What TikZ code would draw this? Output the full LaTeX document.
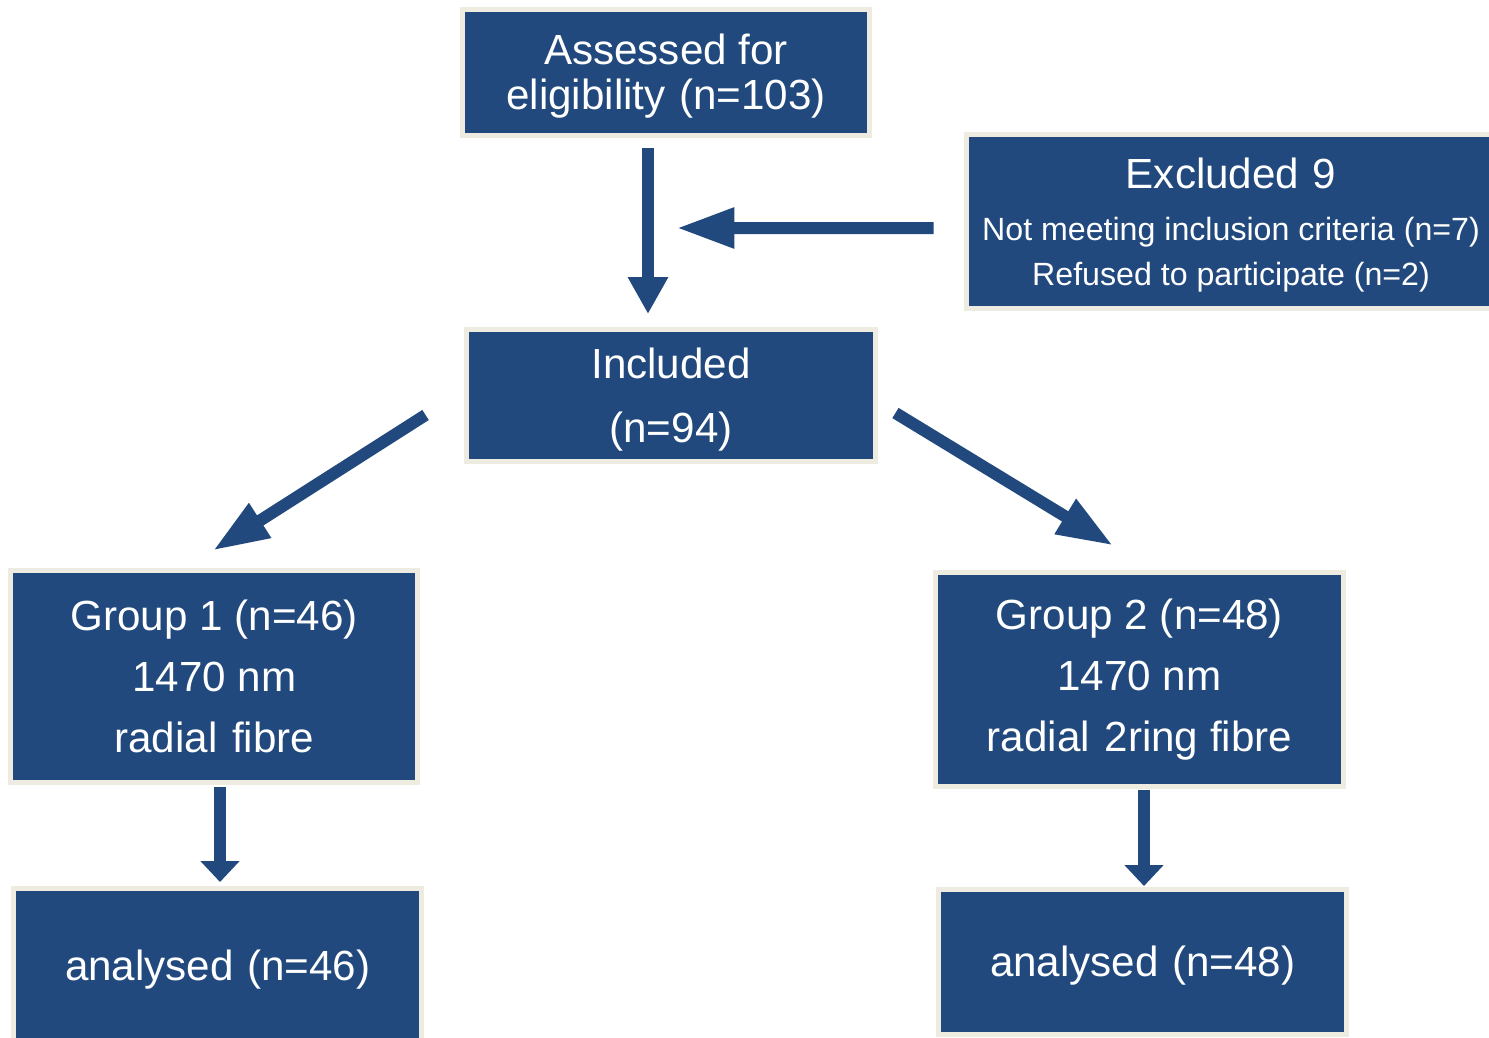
\documentclass[tikz,border=0pt]{standalone}
\usepackage{fontspec}
\setmainfont{Liberation Sans}
\usetikzlibrary{arrows.meta,calc}
\definecolor{boxblue}{RGB}{33,73,125}
\definecolor{boxrim}{RGB}{238,235,224}
\newcommand{\lift}{\rule{0pt}{21.5pt}}
\tikzset{
    box/.style={draw=boxrim, line width=0.1cm, fill=boxblue, text=white,
        inner sep=0pt, align=center, font=\fontsize{24}{26.1}\selectfont},
    flow/.style={draw=boxblue, line width=0.24cm, -{Triangle[width=0.76cm, length=#1]}},
    flow/.default=0.74cm
}

\begin{document}
\begin{tikzpicture}[x=0.02cm, y=-0.02cm]
    \useasboundingbox (0,0) rectangle (1489,1038);

    \node[box, minimum width=8.15cm, minimum height=2.54cm] (assess) at (666,72.5)
        {\lift Assessed for\\eligibility\hspace{0.32em}(n=103)};
    \node[box, minimum width=10.6cm, minimum height=3.48cm] (excl) at (1231,221.5)
        {{\fontsize{24}{26}\selectfont\lift Excluded\hspace{0.32em}9}\\[3.5pt]
         {\fontsize{18.3}{25.6}\selectfont Not meeting inclusion criteria (n=7)}\\
         {\fontsize{18.3}{25.6}\selectfont Refused to participate (n=2)}};
    \node[box, minimum width=8.18cm, minimum height=2.65cm,
        font=\fontsize{24}{36.3}\selectfont] (incl) at (671,395.75)
        {\lift Included\\(n=94)};
    \node[box, minimum width=8.15cm, minimum height=4.24cm,
        font=\fontsize{24}{34.6}\selectfont] (grp1) at (214.25,676.5)
        {Group 1 (n=46)\\1470 nm\\radial\hspace{0.35em}fibre};
    \node[box, minimum width=8.16cm, minimum height=4.28cm,
        font=\fontsize{24}{34.6}\selectfont] (grp2) at (1139.5,679.5)
        {Group 2 (n=48)\\1470 nm\\radial\hspace{0.35em}2ring fibre};
    \node[box, minimum width=8.17cm, minimum height=3.1cm] (ana1) at (217.75,966)
        {\lift analysed\hspace{0.32em}(n=46)};
    \node[box, minimum width=8.17cm, minimum height=2.9cm] (ana2) at (1142.75,962)
        {\lift analysed\hspace{0.32em}(n=48)};

    \coordinate (joinpt) at (676.5,228);

    \draw[flow] ($(assess.south)+(-18,10)$) -- ($(incl.north)+(-23,-13)$);
    \draw[flow=1.16cm] ($(excl.west)+(-30,6.5)$) -- (joinpt);
    \draw[flow=1.12cm] ($(incl.west)+(-38.5,19.25)$) -- ($(grp1.north)+(-1.25,-17.5)$);
    \draw[flow=1.12cm] ($(incl.east)+(17.5,17.25)$) -- ($(grp2.north)+(-26.5,-24.5)$);
    \draw[flow=0.42cm] ($(grp1.south)+(5.75,2)$) -- ($(ana1.north)+(2.25,-4)$);
    \draw[flow=0.42cm] ($(grp2.south)+(4.5,1.5)$) -- ($(ana2.north)+(1.25,-1)$);
\end{tikzpicture}
\end{document}
